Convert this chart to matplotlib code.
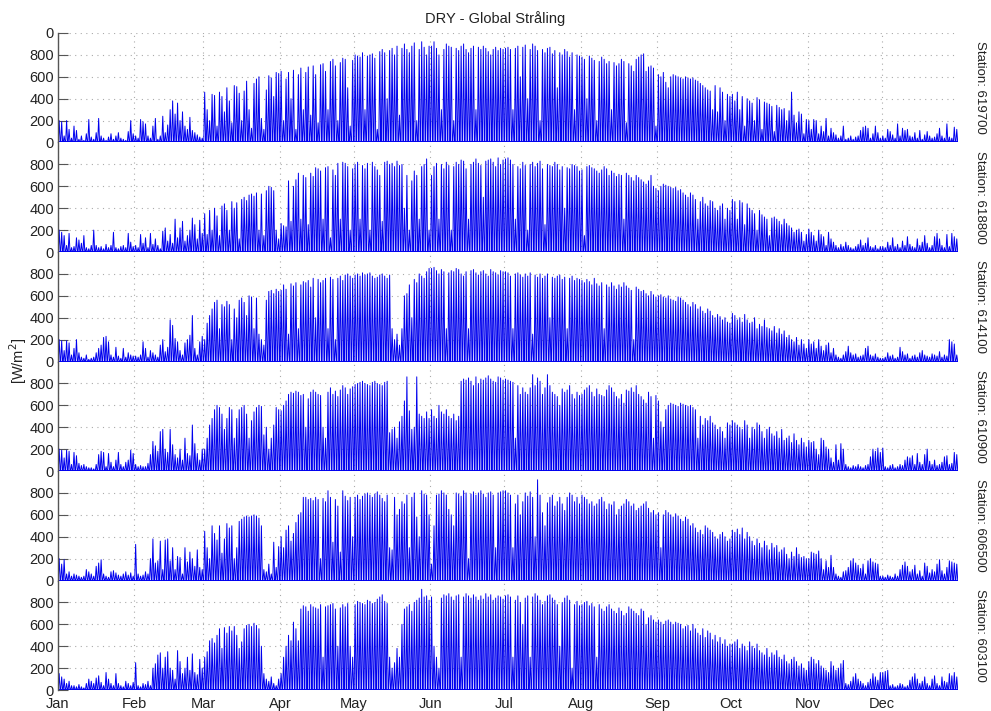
import numpy as np
import matplotlib
matplotlib.use("Agg")
import matplotlib.pyplot as plt

plt.rcParams["font.family"] = ["Liberation Sans", "DejaVu Sans"]

# Month labels and lengths (non-leap reference year)
months = ["Jan", "Feb", "Mar", "Apr", "May", "Jun",
          "Jul", "Aug", "Sep", "Oct", "Nov", "Dec"]
month_days = [31, 28, 31, 30, 31, 30, 31, 31, 30, 31, 30, 31]

stations = ["619700", "618800", "614100", "610900", "606500", "603100"]

# Daily peak of global radiation [W/m2], one list per month
peak_619700 = [
    [200, 190, 60, 200, 120, 40, 150, 110, 30, 60, 20, 80, 210, 50, 30, 90, 220, 60, 40, 20, 50, 80, 30, 60, 90, 40, 30, 20, 100, 200, 80],
    [60, 40, 210, 190, 170, 60, 40, 150, 220, 30, 60, 240, 90, 160, 300, 380, 260, 360, 200, 280, 150, 120, 230, 110, 90, 70, 50, 40],
    [460, 300, 200, 440, 430, 150, 460, 420, 280, 500, 380, 180, 520, 510, 450, 200, 470, 560, 300, 130, 540, 580, 600, 220, 120, 480, 610, 590, 420, 640, 630],
    [650, 200, 580, 640, 400, 660, 120, 620, 680, 300, 640, 690, 250, 700, 620, 180, 710, 720, 650, 300, 740, 760, 700, 200, 730, 770, 760, 500, 150, 750],
    [800, 790, 780, 820, 300, 790, 800, 810, 770, 120, 830, 850, 820, 400, 840, 860, 800, 880, 250, 860, 900, 850, 820, 880, 910, 200, 850, 920, 870, 800, 880],
    [880, 920, 860, 800, 300, 850, 900, 880, 870, 200, 860, 840, 880, 900, 850, 820, 860, 880, 300, 870, 850, 880, 860, 830, 800, 850, 870, 840, 860, 850],
    [860, 870, 850, 300, 860, 880, 600, 870, 890, 400, 850, 900, 880, 840, 200, 850, 820, 860, 870, 810, 840, 500, 820, 800, 850, 830, 780, 820, 300, 800, 790],
    [780, 760, 400, 790, 770, 750, 200, 740, 780, 760, 720, 740, 300, 730, 700, 720, 760, 740, 180, 720, 700, 650, 760, 780, 800, 810, 650, 690, 700, 680, 150],
    [620, 600, 640, 550, 500, 600, 620, 610, 600, 590, 580, 600, 590, 580, 590, 570, 560, 540, 520, 500, 480, 470, 300, 520, 280, 500, 460, 200, 440, 420],
    [440, 380, 460, 300, 420, 150, 400, 380, 360, 200, 410, 390, 120, 370, 360, 350, 330, 100, 340, 320, 300, 310, 200, 290, 460, 250, 180, 280, 260, 80, 210],
    [200, 120, 210, 200, 80, 150, 100, 220, 60, 130, 90, 70, 40, 60, 150, 30, 40, 60, 30, 50, 60, 110, 140, 150, 130, 40, 80, 150, 90, 40],
    [60, 40, 120, 100, 70, 40, 170, 60, 130, 110, 120, 60, 50, 90, 40, 110, 30, 70, 100, 60, 40, 50, 80, 130, 60, 40, 170, 50, 40, 140, 120],
]

peak_618800 = [
    [200, 180, 150, 60, 170, 40, 50, 130, 110, 80, 150, 40, 30, 60, 200, 60, 40, 50, 30, 70, 40, 60, 180, 40, 30, 50, 60, 40, 170, 90, 50],
    [60, 40, 160, 80, 130, 40, 170, 70, 120, 60, 30, 190, 220, 100, 160, 80, 300, 130, 220, 280, 100, 150, 200, 310, 250, 120, 290, 170],
    [350, 160, 380, 200, 400, 330, 150, 420, 440, 380, 200, 460, 400, 450, 120, 480, 500, 470, 520, 530, 510, 540, 200, 530, 150, 560, 600, 590, 560, 200, 120],
    [260, 240, 230, 650, 280, 600, 660, 720, 300, 700, 680, 250, 720, 690, 770, 760, 740, 300, 770, 780, 130, 750, 700, 810, 300, 820, 810, 780, 200, 760],
    [800, 820, 300, 790, 760, 810, 200, 820, 780, 750, 700, 280, 820, 830, 800, 810, 780, 830, 790, 800, 400, 700, 200, 650, 740, 700, 300, 780, 800, 850, 200],
    [700, 780, 810, 300, 800, 760, 820, 790, 200, 780, 820, 800, 840, 830, 760, 300, 800, 820, 850, 810, 790, 500, 830, 840, 850, 820, 780, 860, 800, 840],
    [850, 860, 840, 800, 300, 780, 760, 820, 790, 200, 800, 820, 780, 810, 830, 760, 250, 800, 790, 780, 820, 800, 750, 780, 400, 770, 760, 800, 790, 780, 740],
    [750, 150, 780, 790, 770, 760, 740, 720, 750, 780, 760, 700, 740, 720, 690, 710, 700, 300, 720, 700, 680, 650, 700, 680, 660, 640, 620, 650, 700, 600, 580],
    [560, 600, 620, 610, 600, 590, 580, 590, 560, 570, 540, 520, 500, 540, 520, 480, 300, 460, 500, 440, 420, 470, 460, 400, 380, 420, 440, 300, 400, 380],
    [480, 460, 300, 470, 450, 250, 440, 400, 380, 350, 200, 380, 340, 320, 300, 150, 310, 320, 300, 280, 250, 300, 260, 240, 220, 180, 200, 210, 180, 100, 160],
    [210, 180, 150, 100, 200, 160, 140, 60, 180, 120, 90, 60, 40, 70, 50, 90, 60, 40, 30, 50, 70, 110, 60, 80, 130, 50, 40, 60, 30, 50],
    [50, 40, 90, 60, 130, 50, 70, 40, 100, 60, 140, 70, 50, 40, 120, 60, 90, 150, 80, 40, 60, 140, 170, 120, 60, 40, 160, 50, 170, 140, 120],
]

peak_614100 = [
    [200, 190, 100, 190, 170, 60, 120, 200, 80, 40, 30, 60, 20, 30, 40, 80, 120, 150, 220, 230, 180, 60, 40, 130, 50, 30, 120, 40, 80, 60, 50],
    [50, 40, 60, 180, 120, 40, 100, 80, 60, 40, 150, 200, 90, 130, 380, 330, 210, 180, 100, 60, 170, 200, 240, 420, 120, 60, 180, 230],
    [200, 350, 420, 480, 540, 560, 300, 520, 500, 550, 520, 200, 480, 400, 560, 580, 540, 420, 600, 590, 300, 580, 250, 200, 150, 560, 640, 650, 620, 660, 640],
    [650, 700, 660, 250, 710, 690, 720, 300, 700, 730, 720, 740, 680, 760, 400, 750, 720, 740, 760, 300, 770, 750, 200, 760, 780, 740, 790, 800, 780, 760],
    [790, 800, 780, 810, 790, 800, 810, 780, 760, 770, 790, 800, 780, 760, 790, 300, 200, 250, 150, 300, 600, 620, 700, 400, 750, 720, 800, 780, 760, 820, 850],
    [850, 860, 830, 800, 840, 820, 300, 810, 830, 820, 850, 840, 800, 780, 820, 300, 830, 840, 810, 790, 820, 830, 800, 780, 840, 820, 810, 790, 830, 820],
    [820, 810, 780, 300, 800, 810, 790, 770, 800, 780, 810, 250, 790, 770, 800, 760, 780, 800, 400, 770, 760, 780, 790, 750, 770, 300, 760, 780, 740, 760, 750],
    [740, 720, 750, 730, 700, 760, 710, 690, 720, 300, 700, 680, 720, 690, 660, 700, 680, 720, 690, 670, 650, 200, 680, 660, 640, 650, 620, 600, 640, 610, 590],
    [600, 610, 590, 580, 600, 570, 560, 550, 590, 580, 560, 540, 520, 500, 540, 520, 480, 500, 460, 440, 480, 460, 420, 400, 430, 410, 380, 400, 360, 350],
    [440, 420, 380, 400, 360, 430, 380, 350, 360, 400, 300, 340, 320, 380, 310, 300, 280, 320, 260, 300, 250, 280, 220, 240, 200, 180, 220, 150, 200, 160, 120],
    [200, 160, 180, 120, 200, 140, 100, 150, 170, 80, 120, 60, 40, 30, 60, 90, 140, 80, 60, 70, 40, 50, 60, 120, 140, 60, 50, 70, 40, 30],
    [30, 40, 80, 50, 60, 30, 40, 130, 90, 60, 70, 30, 50, 60, 40, 80, 100, 60, 50, 40, 70, 60, 50, 90, 40, 60, 50, 200, 180, 160, 60],
]

peak_610900 = [
    [200, 190, 120, 190, 180, 60, 170, 140, 70, 50, 60, 40, 30, 30, 20, 60, 150, 180, 170, 40, 160, 80, 40, 100, 170, 60, 40, 80, 100, 190, 160],
    [60, 40, 50, 40, 40, 70, 150, 270, 230, 180, 360, 380, 200, 170, 380, 240, 150, 120, 200, 100, 300, 160, 140, 420, 250, 160, 100, 200],
    [200, 300, 420, 480, 560, 600, 580, 520, 380, 480, 580, 560, 300, 480, 560, 580, 600, 520, 300, 460, 540, 580, 600, 590, 330, 400, 200, 300, 420, 580, 560],
    [550, 600, 640, 700, 720, 710, 730, 720, 690, 700, 400, 660, 720, 740, 720, 700, 690, 400, 300, 720, 760, 700, 730, 680, 740, 780, 760, 700, 750, 770],
    [790, 800, 810, 820, 800, 790, 780, 810, 820, 800, 790, 780, 810, 820, 350, 380, 400, 300, 450, 500, 640, 860, 550, 380, 400, 860, 520, 500, 480, 540, 480],
    [560, 500, 480, 600, 540, 520, 560, 500, 480, 520, 460, 500, 820, 840, 830, 850, 820, 780, 860, 800, 840, 830, 850, 870, 840, 820, 810, 860, 850, 830],
    [840, 830, 820, 810, 300, 780, 700, 760, 720, 700, 760, 880, 780, 850, 820, 700, 760, 880, 780, 720, 700, 680, 600, 750, 720, 740, 780, 700, 660, 720, 690],
    [700, 740, 760, 780, 720, 680, 750, 700, 690, 680, 740, 780, 760, 720, 680, 660, 700, 620, 740, 730, 760, 720, 780, 700, 680, 650, 620, 720, 680, 300, 690],
    [640, 450, 400, 560, 600, 620, 610, 600, 590, 620, 610, 600, 590, 600, 580, 560, 300, 500, 420, 480, 460, 500, 440, 420, 380, 400, 360, 300, 440, 420],
    [460, 440, 420, 400, 380, 460, 420, 300, 400, 380, 440, 420, 360, 300, 380, 400, 340, 320, 360, 300, 380, 280, 300, 320, 260, 340, 280, 240, 300, 260, 220],
    [280, 260, 270, 200, 150, 300, 280, 220, 200, 120, 80, 240, 100, 250, 200, 60, 40, 30, 50, 40, 60, 40, 30, 50, 60, 130, 200, 180, 210, 170],
    [210, 40, 30, 50, 60, 30, 40, 60, 50, 100, 130, 120, 140, 60, 160, 80, 60, 150, 200, 90, 60, 100, 50, 60, 80, 130, 140, 60, 70, 170, 150],
]

peak_606500 = [
    [200, 150, 190, 60, 80, 40, 60, 50, 40, 30, 40, 100, 80, 60, 40, 130, 160, 190, 60, 40, 30, 80, 90, 70, 50, 40, 60, 80, 50, 70, 40],
    [330, 60, 40, 50, 80, 60, 200, 380, 160, 180, 360, 100, 370, 380, 180, 300, 100, 220, 210, 60, 300, 170, 260, 200, 130, 280, 120, 100],
    [450, 300, 200, 500, 430, 370, 500, 250, 380, 520, 480, 500, 200, 300, 540, 560, 580, 590, 580, 590, 600, 590, 570, 500, 100, 80, 150, 60, 350, 120, 310],
    [400, 300, 460, 500, 360, 430, 530, 600, 620, 760, 760, 740, 750, 730, 760, 740, 200, 750, 720, 820, 760, 350, 740, 680, 260, 820, 770, 730, 760, 400],
    [760, 780, 740, 770, 790, 800, 780, 760, 790, 810, 780, 750, 720, 780, 300, 280, 760, 600, 650, 720, 700, 780, 300, 760, 800, 580, 400, 820, 790, 780, 600],
    [150, 500, 780, 790, 820, 800, 780, 650, 600, 500, 800, 790, 770, 820, 800, 200, 790, 810, 780, 800, 820, 790, 760, 800, 810, 780, 300, 800, 810, 820],
    [820, 800, 780, 300, 700, 780, 600, 720, 800, 770, 810, 760, 400, 920, 780, 620, 500, 710, 760, 780, 680, 720, 760, 700, 640, 760, 800, 780, 720, 760, 700],
    [780, 760, 740, 700, 720, 680, 700, 740, 760, 720, 650, 700, 690, 720, 600, 650, 680, 700, 740, 720, 680, 700, 640, 660, 680, 700, 720, 660, 620, 640, 600],
    [620, 300, 600, 640, 620, 600, 580, 610, 590, 560, 540, 580, 560, 500, 520, 480, 440, 460, 420, 500, 480, 460, 440, 400, 380, 420, 440, 400, 360, 380],
    [460, 440, 470, 420, 480, 380, 440, 400, 360, 320, 380, 340, 300, 360, 320, 280, 340, 300, 320, 260, 280, 300, 240, 200, 260, 220, 300, 240, 210, 220, 200],
    [200, 260, 250, 240, 270, 200, 100, 180, 120, 230, 120, 60, 40, 30, 80, 90, 120, 180, 200, 160, 140, 110, 150, 60, 180, 200, 170, 160, 150, 40],
    [40, 30, 50, 40, 30, 60, 40, 100, 140, 170, 130, 80, 100, 140, 60, 90, 40, 160, 130, 70, 100, 80, 150, 190, 90, 60, 120, 180, 170, 160, 150],
]

peak_603100 = [
    [150, 120, 100, 60, 80, 40, 40, 30, 50, 30, 20, 60, 100, 80, 60, 110, 130, 70, 40, 160, 100, 60, 40, 150, 60, 40, 30, 80, 60, 40, 70],
    [250, 40, 30, 60, 50, 80, 40, 200, 240, 320, 340, 200, 300, 350, 200, 180, 100, 360, 260, 150, 200, 300, 180, 330, 160, 140, 280, 200],
    [300, 350, 450, 470, 430, 500, 560, 380, 570, 520, 580, 540, 580, 500, 380, 440, 560, 590, 600, 580, 610, 590, 560, 400, 150, 100, 80, 120, 60, 40, 100],
    [150, 300, 400, 500, 450, 620, 560, 450, 740, 770, 760, 720, 780, 760, 750, 740, 780, 300, 760, 770, 780, 790, 740, 400, 750, 780, 760, 790, 400, 300],
    [780, 810, 800, 790, 780, 820, 810, 790, 800, 830, 850, 870, 810, 790, 300, 200, 250, 380, 300, 600, 740, 760, 780, 720, 800, 820, 840, 920, 850, 860, 820],
    [850, 400, 300, 200, 840, 870, 860, 880, 850, 820, 860, 870, 300, 850, 880, 860, 840, 870, 850, 820, 860, 830, 880, 850, 870, 820, 840, 860, 850, 830],
    [860, 870, 850, 300, 820, 860, 800, 600, 840, 860, 300, 850, 880, 860, 820, 780, 810, 860, 870, 840, 820, 780, 400, 800, 840, 860, 820, 200, 780, 810, 770],
    [780, 800, 810, 770, 790, 760, 300, 780, 740, 720, 760, 780, 740, 720, 700, 750, 720, 680, 700, 760, 740, 720, 700, 680, 740, 720, 600, 660, 680, 640, 620],
    [640, 620, 600, 630, 640, 620, 600, 620, 610, 600, 560, 580, 590, 540, 600, 560, 520, 500, 560, 480, 540, 520, 460, 500, 440, 480, 420, 460, 400, 420],
    [420, 440, 460, 380, 420, 400, 360, 440, 400, 380, 420, 360, 340, 320, 380, 300, 340, 320, 360, 300, 280, 320, 260, 240, 280, 300, 260, 220, 240, 200, 180],
    [260, 300, 280, 240, 270, 220, 200, 180, 160, 260, 220, 180, 200, 240, 270, 60, 50, 80, 120, 150, 100, 80, 60, 40, 70, 100, 150, 120, 90, 160],
    [160, 170, 180, 40, 50, 30, 40, 60, 50, 30, 40, 90, 120, 150, 100, 60, 80, 120, 60, 40, 100, 130, 60, 40, 120, 80, 70, 150, 130, 160, 120],
]

peaks = [peak_619700, peak_618800, peak_614100, peak_610900, peak_606500, peak_603100]

month_start = np.concatenate([[0], np.cumsum(month_days)[:-1]])


def daily_trace(station_peaks):
    # one spike per day: zero at night, peak around noon
    xs, ys = [], []
    for m, vals in enumerate(station_peaks):
        for i, p in enumerate(vals):
            d = month_start[m] + i
            xs += [d + 0.12, d + 0.5, d + 0.88]
            ys += [0, p, 0]
    return np.array(xs), np.array(ys)


fig, axes = plt.subplots(6, 1, figsize=(9.91, 7.11), dpi=100, sharex=True)
fig.subplots_adjust(left=0.0585, right=0.9667, top=0.9536, bottom=0.0295, hspace=0)

for k, ax in enumerate(axes):
    x, y = daily_trace(peaks[k])
    ax.plot(x, y, color="#0000ee", lw=0.7)
    ax.plot([0, 365], [0, 0], color="#0000ee", lw=1.4)
    ax.set_xlim(0, 365)
    ax.set_ylim(0, 1000)
    if k == 0:
        ax.set_yticks([0, 200, 400, 600, 800, 1000])
        ax.set_yticklabels(["0", "200", "400", "600", "800", "0"])
    else:
        ax.set_yticks([0, 200, 400, 600, 800])
    ax.set_xticks(month_start)
    ax.grid(True, linestyle=(0, (1, 4)), color="#aaaaaa", lw=0.8)
    for s in ["top", "right", "bottom"]:
        ax.spines[s].set_visible(False)
    ax.spines["left"].set_color("#555555")
    ax.spines["left"].set_linewidth(1.0)
    ax.tick_params(axis="y", direction="in", length=7, color="#555555",
                   labelsize=10.5, labelcolor="#222222", pad=3)
    ax.tick_params(axis="x", length=0, labelsize=10.5, labelcolor="#222222", pad=5)
    yc = 1 - (33 + (k + 0.5) * 109.5) / 711
    fig.text(0.989, yc, "Station: " + stations[k], rotation=-90,
             ha="center", va="center", fontsize=9.5, color="#222222")

axes[-1].set_xticklabels(months)

fig.suptitle("DRY - Global Stråling", y=0.985, fontsize=10.5, color="#222222")
fig.text(0.018, 0.492, "[W/m$^2$]", rotation=90, ha="center", va="center",
         fontsize=10.5, color="#222222")

fig.savefig("out.png", dpi=100)
